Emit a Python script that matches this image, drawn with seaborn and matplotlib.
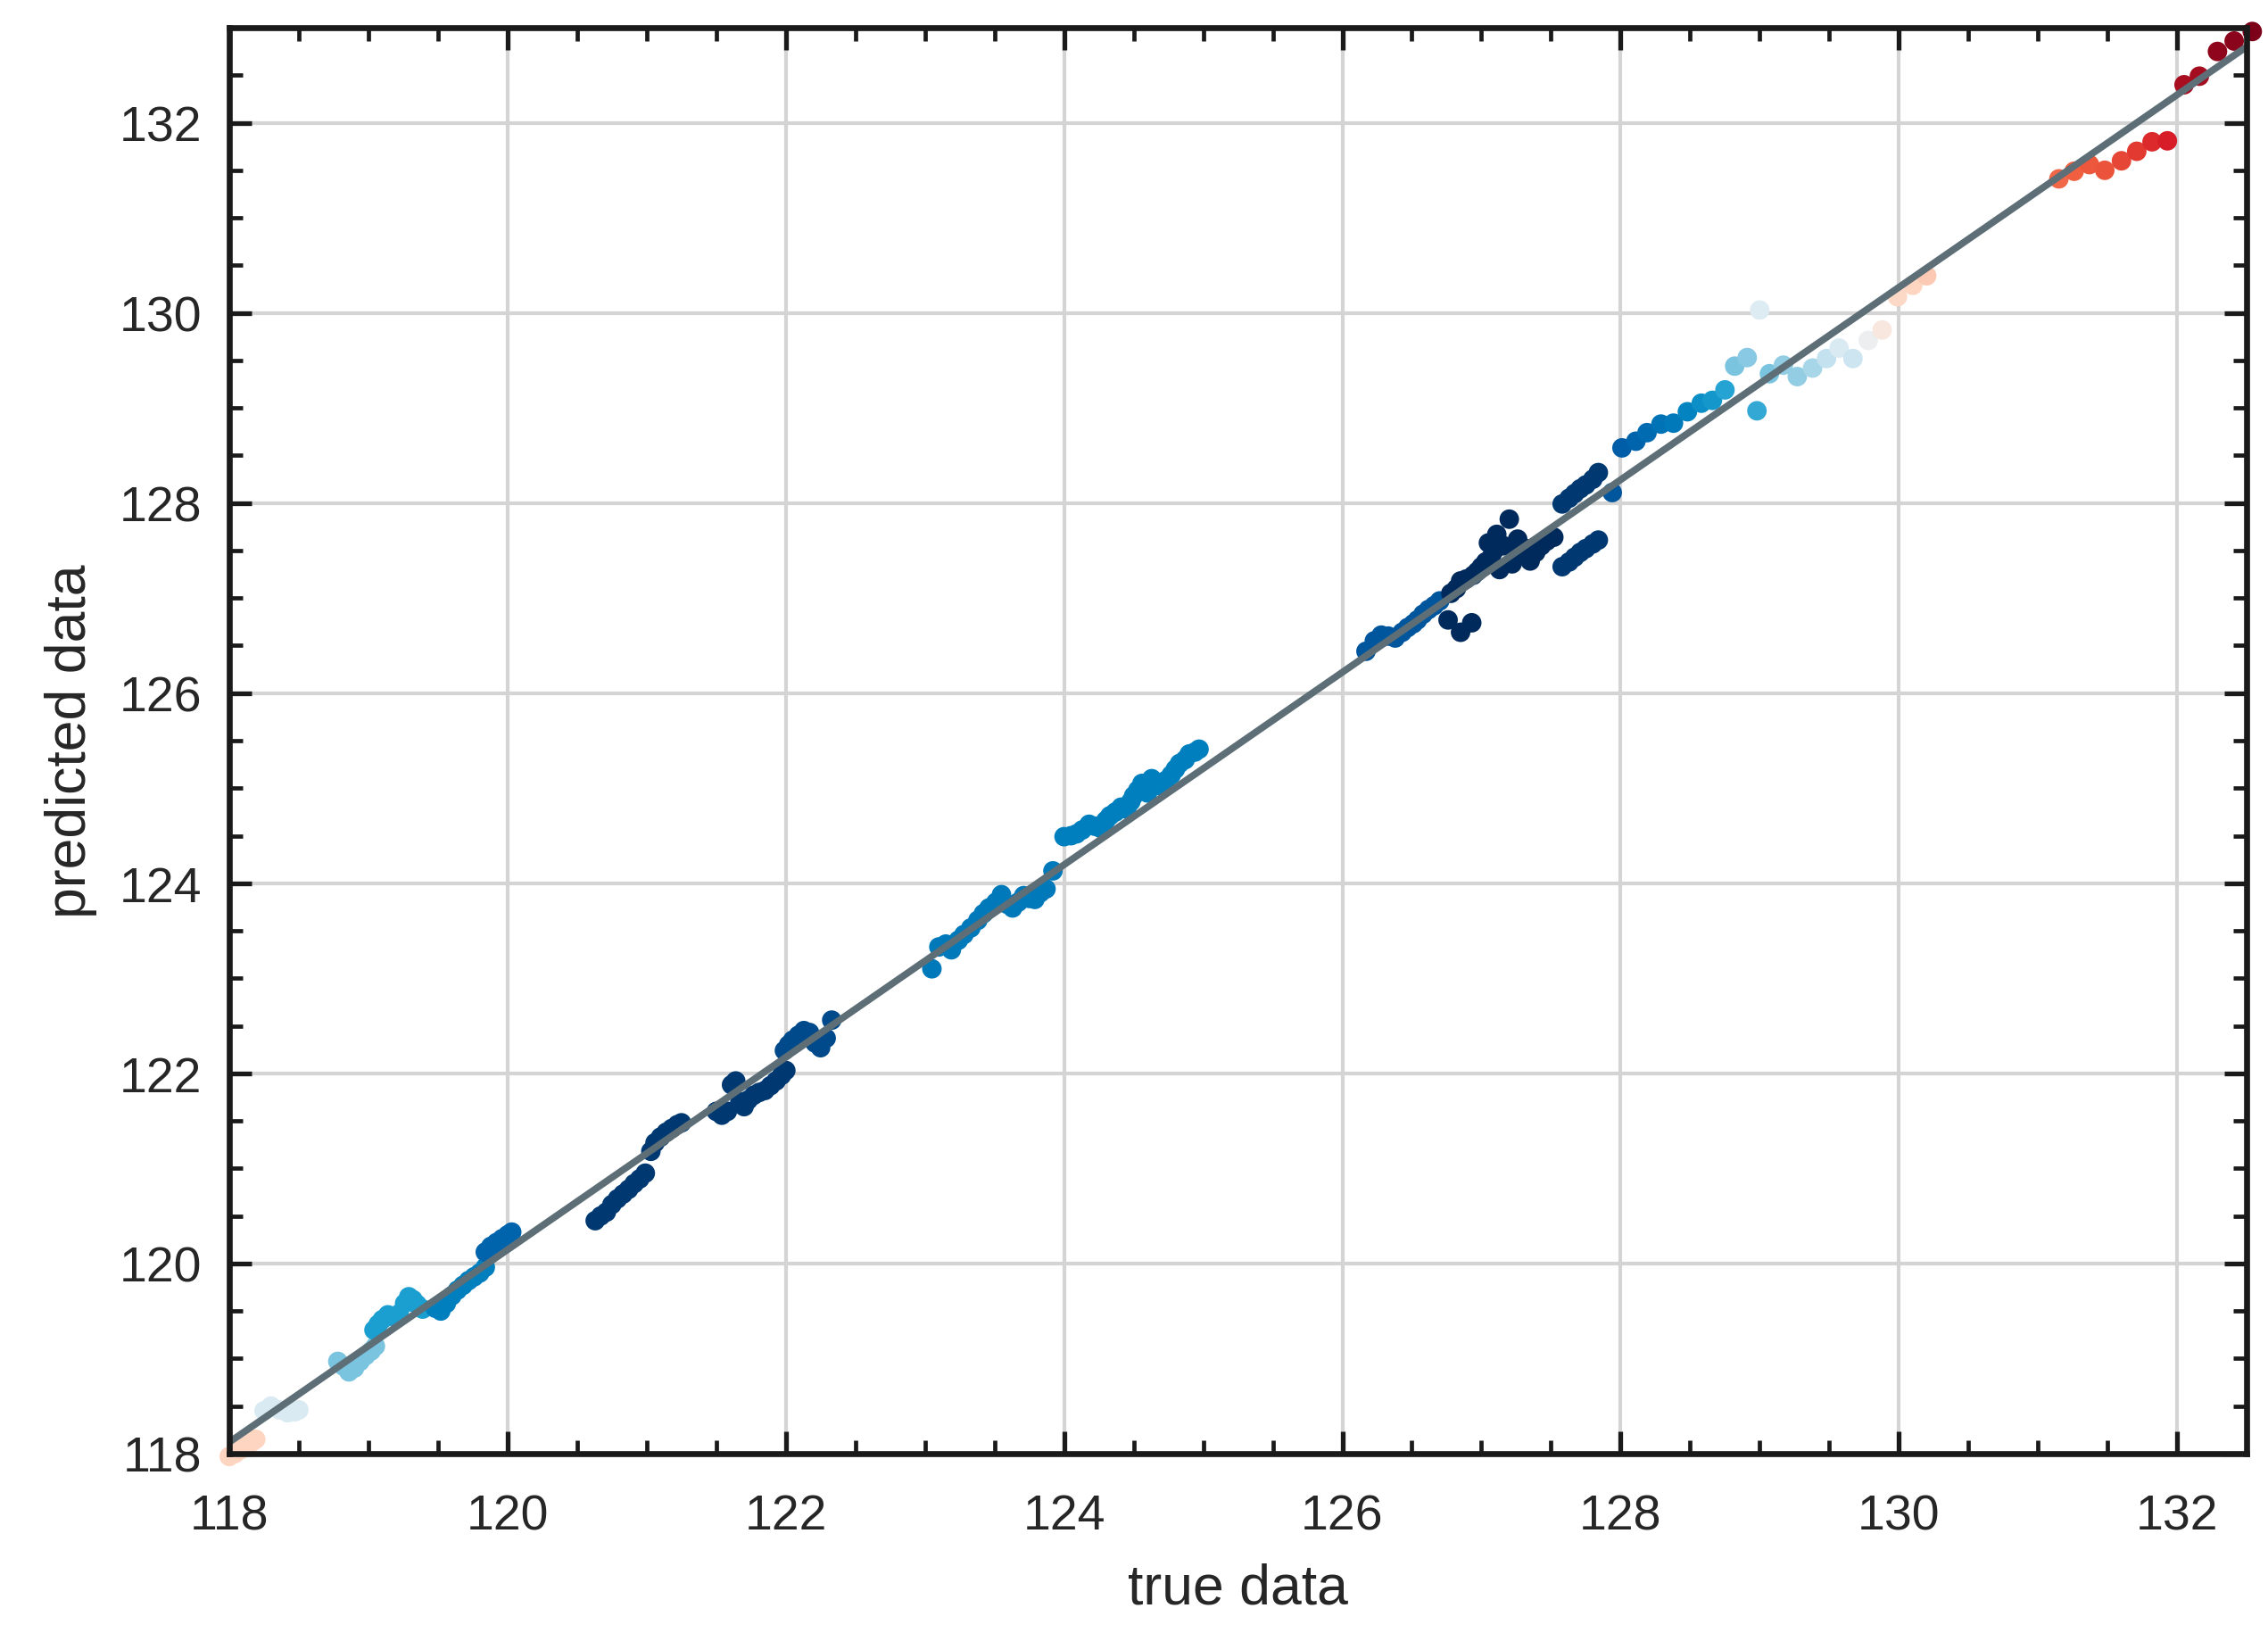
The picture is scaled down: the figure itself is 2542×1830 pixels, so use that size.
import numpy as np
import pandas as pd
import seaborn as sns
import matplotlib.pyplot as plt
from matplotlib.colors import LinearSegmentedColormap
from matplotlib.ticker import MultipleLocator


# true vs predicted values, one line per cluster along the diagonal
true_data = [
    118.00, 118.04, 118.08, 118.12, 118.16, 118.19,
    118.25, 118.30, 118.36, 118.42, 118.47, 118.50,
    118.78, 118.82, 118.86, 118.90, 118.94, 118.98, 119.02, 119.05,
    119.04, 119.07, 119.10, 119.14, 119.18, 119.22, 119.26, 119.29, 119.32, 119.35, 119.39,
    119.48, 119.52, 119.56, 119.60, 119.64, 119.68, 119.72, 119.76, 119.80, 119.84,
    119.84, 119.88, 119.92, 119.96, 120.00, 120.03,
    120.63, 120.67, 120.71, 120.75, 120.79, 120.83, 120.87, 120.91, 120.95, 120.99,
    121.03, 121.06, 121.10, 121.14, 121.18, 121.22, 121.25,
    121.50, 121.54, 121.58, 121.61, 121.64, 121.67, 121.70, 121.73, 121.77, 121.81,
    121.85, 121.89, 121.93, 121.97, 122.00,
    121.99, 122.02, 122.05, 122.09, 122.13, 122.17, 122.21, 122.25, 122.29, 122.33,
    123.05, 123.10, 123.15, 123.19, 123.24, 123.28, 123.33, 123.38, 123.42, 123.46,
    123.51, 123.55, 123.59, 123.63, 123.67, 123.71, 123.75, 123.79, 123.83, 123.87, 123.92,
    124.00, 124.05, 124.09, 124.13, 124.18, 124.22, 124.26, 124.30, 124.33, 124.37,
    124.41, 124.45, 124.48, 124.50, 124.53, 124.56, 124.60, 124.63, 124.66, 124.70,
    124.73, 124.77, 124.80, 124.83, 124.87, 124.90, 124.94, 124.97,
    126.17, 126.23, 126.28, 126.33, 126.38, 126.43, 126.47, 126.51, 126.54, 126.58,
    126.62, 126.66, 126.70,
    126.76, 126.78, 126.82, 126.85, 126.85, 126.89, 126.93, 126.94, 126.97, 127.00,
    127.03, 127.05, 127.07, 127.09, 127.11, 127.13, 127.16, 127.20, 127.22, 127.24,
    127.26, 127.29, 127.32, 127.35, 127.39, 127.43, 127.47, 127.52,
    127.58, 127.63, 127.67, 127.71, 127.75, 127.80, 127.84,
    127.58, 127.63, 127.67, 127.71, 127.75, 127.80, 127.84, 127.94,
    128.01, 128.11, 128.19, 128.29, 128.38, 128.48, 128.58, 128.66, 128.75,
    128.98, 128.82, 128.91, 129.00,
    129.07, 129.17, 129.27, 129.38, 129.48, 129.57, 129.67, 129.78, 129.88,
    129.99, 130.10, 130.20,
    131.15, 131.26, 131.37, 131.48, 131.60, 131.71, 131.82, 131.93,
    132.05, 132.16, 132.29, 132.41, 132.54,
]

predicted_data = [
    117.97, 118.00, 118.04, 118.08, 118.12, 118.15,
    118.45, 118.50, 118.46, 118.43, 118.44, 118.46,
    118.97, 118.92, 118.86, 118.90, 118.97, 119.03, 119.08, 119.13,
    119.30, 119.36, 119.41, 119.46, 119.44, 119.47, 119.58, 119.65, 119.62, 119.57, 119.52,
    119.53, 119.50, 119.58, 119.66, 119.72, 119.77, 119.82, 119.86, 119.90, 119.96,
    120.12, 120.18, 120.22, 120.26, 120.30, 120.33,
    120.45, 120.50, 120.54, 120.62, 120.68, 120.73, 120.78, 120.84, 120.89, 120.95,
    121.18, 121.27, 121.33, 121.38, 121.42, 121.46, 121.48,
    121.60, 121.56, 121.60, 121.88, 121.92, 121.70, 121.65, 121.72, 121.77, 121.80,
    121.82, 121.87, 121.92, 121.98, 122.03,
    122.24, 122.30, 122.35, 122.40, 122.45, 122.43, 122.32, 122.27, 122.37, 122.56,
    123.10, 123.33, 123.36, 123.30, 123.40, 123.46, 123.53, 123.61, 123.68, 123.74,
    123.80, 123.88, 123.78, 123.74, 123.80, 123.87, 123.84, 123.83, 123.90, 123.94, 124.13,
    124.49, 124.50, 124.52, 124.56, 124.62, 124.60, 124.58, 124.66, 124.71, 124.75,
    124.80, 124.78, 124.86, 124.92, 124.98, 125.05, 124.95, 125.10, 125.06, 125.02,
    125.08, 125.14, 125.20, 125.26, 125.30, 125.36, 125.38, 125.41,
    126.44, 126.55, 126.61, 126.60, 126.58, 126.64, 126.69, 126.73, 126.77, 126.83,
    126.88, 126.92, 126.97,
    126.77, 127.05, 127.10, 127.18, 126.64, 127.20, 126.74, 127.24, 127.28, 127.33,
    127.38, 127.58, 127.43, 127.50, 127.67, 127.30, 127.55, 127.83, 127.36, 127.50,
    127.62, 127.45, 127.52, 127.39, 127.48, 127.55, 127.60, 127.64,
    127.99, 128.05, 128.10, 128.15, 128.19, 128.25, 128.32,
    127.33, 127.38, 127.43, 127.48, 127.52, 127.57, 127.61, 128.11,
    128.58, 128.65, 128.74, 128.83, 128.84, 128.96, 129.05, 129.08, 129.19,
    128.97, 129.44, 129.53, 130.03,
    129.36, 129.45, 129.33, 129.42, 129.52, 129.63, 129.52, 129.71, 129.82,
    130.17, 130.29, 130.39,
    131.41, 131.49, 131.56, 131.50, 131.60, 131.70, 131.80, 131.81,
    132.40, 132.49, 132.75, 132.86, 132.96,
]

colour_value = [
    0.64, 0.64, 0.64, 0.64, 0.64, 0.64,
    0.52, 0.52, 0.52, 0.52, 0.52, 0.52,
    0.44, 0.44, 0.44, 0.44, 0.44, 0.44, 0.44, 0.44,
    0.36, 0.36, 0.36, 0.36, 0.36, 0.36, 0.36, 0.36, 0.36, 0.36, 0.36,
    0.28, 0.28, 0.28, 0.28, 0.28, 0.28, 0.28, 0.28, 0.28, 0.28,
    0.20, 0.20, 0.20, 0.20, 0.20, 0.20,
    0.06, 0.06, 0.06, 0.06, 0.06, 0.06, 0.06, 0.06, 0.06, 0.06,
    0.06, 0.06, 0.06, 0.06, 0.06, 0.06, 0.06,
    0.06, 0.06, 0.06, 0.06, 0.06, 0.06, 0.06, 0.06, 0.06, 0.06,
    0.06, 0.06, 0.06, 0.06, 0.06,
    0.12, 0.12, 0.12, 0.12, 0.12, 0.12, 0.12, 0.12, 0.12, 0.12,
    0.26, 0.26, 0.26, 0.26, 0.26, 0.26, 0.26, 0.26, 0.26, 0.26,
    0.26, 0.26, 0.26, 0.26, 0.26, 0.26, 0.26, 0.26, 0.26, 0.26, 0.26,
    0.28, 0.28, 0.28, 0.28, 0.28, 0.28, 0.28, 0.28, 0.28, 0.28,
    0.28, 0.28, 0.28, 0.28, 0.28, 0.28, 0.28, 0.28, 0.28, 0.28,
    0.28, 0.28, 0.28, 0.28, 0.28, 0.28, 0.28, 0.28,
    0.16, 0.16, 0.16, 0.16, 0.16, 0.16, 0.16, 0.16, 0.16, 0.16,
    0.16, 0.16, 0.16,
    0.00, 0.00, 0.00, 0.00, 0.00, 0.00, 0.00, 0.00, 0.00, 0.00,
    0.00, 0.00, 0.00, 0.00, 0.00, 0.00, 0.00, 0.00, 0.00, 0.00,
    0.00, 0.00, 0.00, 0.00, 0.00, 0.00, 0.00, 0.00,
    0.06, 0.06, 0.06, 0.06, 0.06, 0.06, 0.06,
    0.06, 0.06, 0.06, 0.06, 0.06, 0.06, 0.06, 0.16,
    0.18, 0.20, 0.22, 0.24, 0.26, 0.29, 0.32, 0.34, 0.37,
    0.38, 0.44, 0.45, 0.53,
    0.44, 0.46, 0.46, 0.48, 0.50, 0.52, 0.51, 0.56, 0.60,
    0.63, 0.64, 0.65,
    0.75, 0.76, 0.77, 0.78, 0.80, 0.82, 0.84, 0.86,
    0.93, 0.94, 0.97, 0.98, 1.00,
]

# fitted line end points
fit_x = [118.0, 132.5]
fit_y = [118.12, 132.80]

cmap_stops = [
    (0.00, '#002a5c'), (0.08, '#003f7a'), (0.18, '#005da8'), (0.28, '#0080bf'),
    (0.36, '#1a9fd0'), (0.44, '#7cc4e0'), (0.52, '#d8eaf3'), (0.58, '#f5f0ee'),
    (0.64, '#fdd5c0'), (0.76, '#f0603f'), (0.86, '#d81e28'), (1.00, '#7d0019'),
]
cmap = LinearSegmentedColormap.from_list('pred', cmap_stops)

df = pd.DataFrame({'true': true_data, 'pred': predicted_data, 'c': colour_value})

sns.set_theme(style='white')
plt.rcParams['font.family'] = ['Liberation Sans', 'DejaVu Sans']

fig = plt.figure(figsize=(12.71, 9.155), dpi=200)
ax = fig.add_axes([0.1011, 0.1098, 0.8895, 0.8727])

sns.scatterplot(data=df, x='true', y='pred', hue='c', palette=cmap, hue_norm=(0, 1),
                s=62, linewidth=0, legend=False, ax=ax, clip_on=False, zorder=3)
ax.plot(fit_x, fit_y, color='#5d6e77', lw=2.8, zorder=4)

ax.set_xlim(118, 132.5)
ax.set_ylim(118, 133)
ax.xaxis.set_major_locator(MultipleLocator(2))
ax.yaxis.set_major_locator(MultipleLocator(2))
ax.xaxis.set_minor_locator(MultipleLocator(0.5))
ax.yaxis.set_minor_locator(MultipleLocator(0.5))

ax.grid(True, which='major', color='#d4d4d4', lw=1.5)
ax.set_axisbelow(True)
for sp in ax.spines.values():
    sp.set_visible(True)
    sp.set_color('#1a1a1a')
    sp.set_linewidth(2.4)
    sp.set_zorder(5)

ax.tick_params(which='both', direction='in', top=True, right=True, bottom=True, left=True,
               color='#1a1a1a', labelcolor='#262626', labelsize=20)
ax.tick_params(which='major', length=9, width=1.9)
ax.tick_params(which='minor', length=5.4, width=1.7)
ax.tick_params(axis='x', which='major', pad=16)
ax.tick_params(axis='y', which='major', pad=11)

ax.set_xlabel('true data', fontsize=22.5, color='#262626', labelpad=9)
ax.set_ylabel('predicted data', fontsize=22.5, color='#262626', labelpad=9)

fig.savefig('out.png', dpi=200)
